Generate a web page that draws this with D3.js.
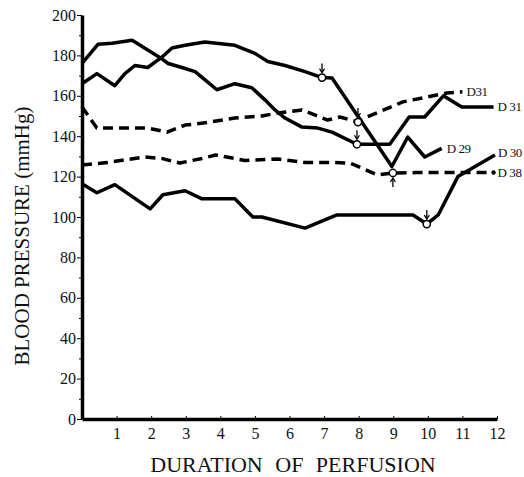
<html>
<head>
<script src="https://d3js.org/d3.v7.min.js"></script>
<style>
  body { margin: 0; background: white; }
  svg text { font-family: "Liberation Serif", "DejaVu Serif", serif; fill: #111; }
</style>
</head>
<body>
<svg width="524" height="477"></svg>
<script>
// values: [hours, mmHg]
const d31Solid = [[0,176],[0.46,185.5],[0.87,186],[1.45,187.5],[1.82,183.5],[2.25,179],[2.49,176],
  [2.89,174],[3.27,172],[3.55,168],[3.9,163],[4.42,166],[4.91,164],[5.29,158],[5.58,153],[5.87,149],
  [6.36,144.5],[6.82,144],[7.23,142],[7.95,136],[8.9,136],[9.46,149.5],[9.91,149.5],[10.45,160],
  [10.98,154.5],[11.9,154.5]];
const d29Solid = [[0,166],[0.43,171],[0.95,165],[1.24,171],[1.53,175],[1.9,174],[2.3,179],[2.6,183.7],
  [2.98,185],[3.55,186.6],[4.42,185],[5.0,181],[5.37,177],[5.87,175],[6.45,172],[6.94,169],[7.23,168.8],
  [8.96,125],[9.42,139.6],[9.91,129.7],[10.4,134]];
const d30Solid = [[0,116.5],[0.43,112],[0.95,116],[1.97,104],[2.34,111],[2.98,113],[3.47,109],[4.42,109],
  [4.94,100],[5.2,100],[6.45,94.5],[7.37,101],[9.57,101],[9.97,96.5],[10.3,101],[10.87,120],[11.94,130.7]];
const d31Dashed = [[0,154.5],[0.43,144],[1.24,144],[1.9,144],[2.46,142],[2.98,145.5],[3.5,146.5],[4.42,149],
  [5.2,150],[5.66,151.5],[6.36,153],[6.73,150.5],[7.1,148],[7.46,149.5],[7.98,147],[8.24,149.5],
  [9.28,157],[10.55,161.4],[11.0,162]];
const d38Dashed = [[0,125.7],[0.75,127],[1.8,129.7],[2.3,129],[2.83,126.7],[3.47,129],[3.87,130.7],
  [4.71,128],[5.66,128.7],[6.45,127],[7.23,127],[7.75,126.7],[8.55,120.8],[8.99,121.8],[9.68,122],
  [10.9,122],[11.9,122]];

const seriesNames = ["D31", "D 31", "D 29", "D 30", "D 38"];
// marked points: [hours, mmHg, arrow direction]
const markers = [[6.94,169,"down"],[7.98,147,"down"],[7.95,136,"down"],[8.99,121.8,"up"],[9.97,96.5,"down"]];

const xTicks = [1,2,3,4,5,6,7,8,9,10,11,12];
const yTicks = [0,20,40,60,80,100,120,140,160,180,200];
const yMinor = [10,30,50,70,90,110,130,150,170,190];

const svg = d3.select("svg");
const xs = d3.scaleLinear().domain([0,12]).range([82,497]);
const ys = d3.scaleLinear().domain([0,200]).range([419,15]);

// axes
const yAxis = svg.append("g").attr("transform","translate("+xs(0)+",0)")
  .call(d3.axisLeft(ys).tickValues(yTicks).tickSize(5).tickSizeOuter(0).tickPadding(1));
yAxis.select(".domain").attr("stroke-width",3.5);
yAxis.selectAll("text").style("font-size","16px");
svg.append("g").attr("transform","translate("+xs(0)+",0)")
  .call(d3.axisLeft(ys).tickValues(yMinor).tickSize(3).tickFormat(""))
  .select(".domain").remove();

const xAxis = svg.append("g").attr("transform","translate(0,"+ys(0)+")")
  .call(d3.axisBottom(xs).tickValues(xTicks).tickSizeInner(-3).tickSizeOuter(0).tickPadding(9));
xAxis.select(".domain").attr("stroke-width",3.5);
xAxis.selectAll("text").style("font-size","16px");

svg.append("text")
  .attr("transform","translate(22,236) rotate(-90)")
  .attr("text-anchor","middle").attr("dominant-baseline","central")
  .style("font-size","21px")
  .text("BLOOD PRESSURE (mmHg)");

svg.append("text")
  .attr("x",293).attr("y",472)
  .attr("text-anchor","middle")
  .style("font-size","22px").style("word-spacing","7px")
  .text("DURATION OF PERFUSION");

// lines
const line = d3.line().x(d => xs(d[0])).y(d => ys(d[1]));
const all = [
  {name: seriesNames[0], data: d31Dashed, dash: "10,6", dx: 4, dy: 0},
  {name: seriesNames[1], data: d31Solid, dash: null, dx: 4, dy: 0},
  {name: seriesNames[2], data: d29Solid, dash: null, dx: 5, dy: 0},
  {name: seriesNames[3], data: d30Solid, dash: null, dx: 3, dy: -2},
  {name: seriesNames[4], data: d38Dashed, dash: "10,6", dx: 4, dy: 0}
];
all.forEach(s => {
  svg.append("path").datum(s.data)
    .attr("d", line)
    .attr("fill","none").attr("stroke","#000")
    .attr("stroke-width",3.5).attr("stroke-linejoin","round")
    .attr("stroke-dasharray", s.dash);
  const last = s.data[s.data.length-1];
  svg.append("text")
    .attr("x", xs(last[0]) + s.dx).attr("y", ys(last[1]) + s.dy)
    .attr("dominant-baseline","central")
    .style("font-size","13px").style("letter-spacing","-0.4px")
    .text(s.name);
});

// end dot of D38
svg.append("circle")
  .attr("cx", xs(d38Dashed[d38Dashed.length-1][0])).attr("cy", ys(d38Dashed[d38Dashed.length-1][1]))
  .attr("r",2.2).attr("fill","#000");

// marked points with small arrows
markers.forEach(m => {
  const cx = xs(m[0]), cy = ys(m[1]);
  const s = m[2] === "down" ? -1 : 1;
  const y0 = cy + s*14, y1 = cy + s*5;
  svg.append("line").attr("x1",cx).attr("x2",cx).attr("y1",y0).attr("y2",y1)
    .attr("stroke","#000").attr("stroke-width",1.3);
  svg.append("path")
    .attr("d","M"+(cx-2.5)+","+(y1+s*4)+"L"+cx+","+y1+"L"+(cx+2.5)+","+(y1+s*4))
    .attr("fill","none").attr("stroke","#000").attr("stroke-width",1.2);
  svg.append("circle").attr("cx",cx).attr("cy",cy).attr("r",3.6)
    .attr("fill","#fff").attr("stroke","#000").attr("stroke-width",1.5);
});
</script>
</body>
</html>
